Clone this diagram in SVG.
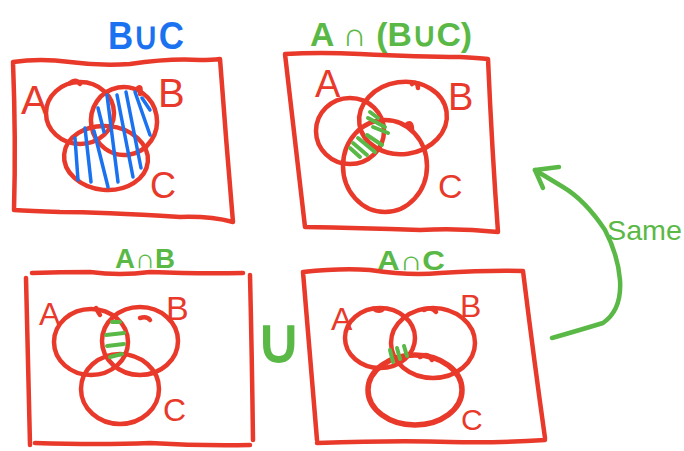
<svg xmlns="http://www.w3.org/2000/svg" width="684" height="451" viewBox="0 0 684 451">
<style>
.r{fill:none;stroke:#e8392a;stroke-width:4.5;stroke-linecap:round;stroke-linejoin:round}
.rt{fill:#e8392a;font-family:"Liberation Sans",Arial,sans-serif}
.gt{fill:#5ab946;font-family:"Liberation Sans",Arial,sans-serif}
.bt{fill:#1a72f0;font-family:"Liberation Sans",Arial,sans-serif;font-weight:bold}
.gh{fill:none;stroke:#5ab946;stroke-width:4;stroke-linecap:round}
.bh{fill:none;stroke:#1a72f0;stroke-width:3.5;stroke-linecap:round}
.ga{fill:none;stroke:#5ab946;stroke-width:4.5;stroke-linecap:round;stroke-linejoin:round}
</style>
<rect width="684" height="451" fill="#fff"/>

<g id="panel-BuC">
<text class="bt" x="108" y="49" font-size="38" textLength="76" lengthAdjust="spacingAndGlyphs">B∪C</text>
<path class="r" d="M13 62 Q40 58 70 62 Q100 66 130 64 Q170 58 200 60 Q212 60 220 59 Q226 140 233 222 Q210 216 180 217 Q100 212 60 212 Q30 211 14 210 Q16 140 13 62 Z"/>
<ellipse class="r" cx="80" cy="113" rx="34" ry="31"/>
<path class="r" d="M70 83 Q76 78 80 84"/>
<ellipse class="r" cx="124" cy="121" rx="33" ry="34" transform="rotate(-10 124 121)"/>
<path class="r" d="M137 89 Q142 84 140 94"/>
<ellipse class="r" cx="106" cy="158" rx="42" ry="32" transform="rotate(5 106 158)"/>
<text class="rt" x="21" y="114" font-size="40">A</text>
<text class="rt" x="158" y="107" font-size="40">B</text>
<text class="rt" x="150" y="198" font-size="36">C</text>
<path class="bh" d="M75 138 L78 180 M85 128 L91 182 M94 131 L108 187 M98 108 L104 132 M107 95 L118 182 M117 95 L133 177 M126 92 L141 168 M135 92 L150 135 M142 98 L150 110"/>
</g>

<g id="panel-AnBuC">
<text class="gt" x="310" y="46" font-size="33" font-weight="bold" textLength="162" lengthAdjust="spacingAndGlyphs">A ∩ (B∪C)</text>
<path class="r" d="M285 54 Q320 52 360 54 Q420 57 460 57 Q478 58 488 59 Q492 150 498 232 Q460 228 420 230 Q360 228 305 227 Q296 150 285 54 Z"/>
<ellipse class="r" cx="350" cy="131" rx="34" ry="33"/>
<ellipse class="r" cx="403" cy="118" rx="44" ry="36" transform="rotate(-8 403 118)"/>
<path class="r" d="M412 84 Q417 80 418 88"/>
<ellipse class="r" cx="385" cy="166" rx="42" ry="46"/>
<path class="r" d="M406 125 Q412 120 412 130"/>
<text class="rt" x="315" y="97" font-size="38">A</text>
<text class="rt" x="448" y="110" font-size="38">B</text>
<text class="rt" x="438" y="198" font-size="34">C</text>
<path class="gh" d="M370 112 L378 118 M368 118 L385 127 M373 127 L388 133 M367 135 L382 145 M358 138 L375 152 M353 143 L367 155 M350 148 L360 157"/>
</g>

<g id="panel-AnB">
<text class="gt" x="115" y="268" font-size="27" font-weight="bold" textLength="60" lengthAdjust="spacingAndGlyphs">A∩B</text>
<path class="r" d="M32 273 Q60 272 90 272 Q120 276 150 272 Q200 274 243 273 M26 278 Q28 360 30 445 M250 275 Q252 360 253 440 M35 443 Q100 445 150 443 Q200 446 250 445"/>
<ellipse class="r" cx="91" cy="342" rx="37" ry="33"/>
<path class="r" d="M96 308 Q98 312 100 315"/>
<ellipse class="r" cx="140" cy="341" rx="38" ry="34"/>
<path class="r" d="M140 318 Q147 316 150 320"/>
<ellipse class="r" cx="120" cy="389" rx="39" ry="35"/>
<text class="rt" x="39" y="325" font-size="32">A</text>
<text class="rt" x="166" y="320" font-size="34">B</text>
<text class="rt" x="163" y="421" font-size="32">C</text>
<path class="gh" d="M112 322 L120 322 M106 335 L124 333 M107 346 L124 344 M110 357 L122 354"/>
</g>

<g id="panel-AnC">
<text class="gt" x="377" y="270" font-size="27" font-weight="bold" textLength="68" lengthAdjust="spacingAndGlyphs">A∩C</text>
<path class="r" d="M303 272 Q340 268 370 270 Q410 276 440 273 Q490 270 523 271 M303 272 Q310 360 317 440 M523 271 Q534 360 545 438 M317 443 Q400 440 450 442 Q500 443 545 440"/>
<ellipse class="r" cx="380" cy="338" rx="35" ry="30"/>
<path class="r" d="M374 309 Q378 312 382 310"/>
<ellipse class="r" cx="433" cy="343" rx="42" ry="35"/>
<path class="r" d="M424 310 Q432 306 436 312"/>
<ellipse class="r" cx="415" cy="390" rx="47" ry="35" style="stroke-width:5.5"/>
<path class="r" d="M420 357 Q428 352 432 360"/>
<text class="rt" x="331" y="330" font-size="32">A</text>
<text class="rt" x="460" y="317" font-size="32">B</text>
<text class="rt" x="461" y="430" font-size="30">C</text>
<path class="gh" d="M390 350 L393 362 M397 348 L400 359 M404 346 L407 356"/>
</g>

<g id="union-sign">
<text class="gt" x="256" y="362" font-size="62" font-weight="bold">∪</text>
</g>

<g id="connectors">
<path class="ga" d="M552 338 Q580 330 603 323 Q622 310 620 280 Q618 255 605 230 Q585 200 563 187 Q548 178 535 170"/>
<path class="ga" d="M559 167 L535 170 L543 188"/>
<text class="gt" x="607" y="240" font-size="28" textLength="75" lengthAdjust="spacingAndGlyphs">Same</text>
</g>
</svg>
